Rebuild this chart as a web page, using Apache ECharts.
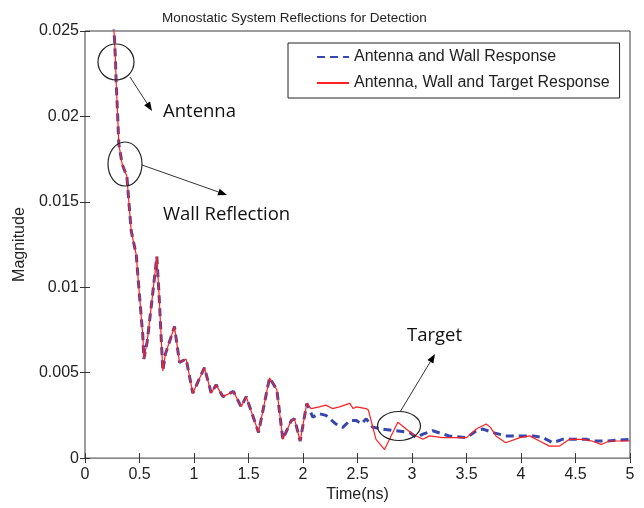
<!DOCTYPE html>
<html>
<head>
<meta charset="utf-8">
<script src="https://cdn.jsdelivr.net/npm/echarts@6/dist/echarts.min.js"></script>
<style>
  html, body { margin: 0; padding: 0; background: #fff; }
  #chart { width: 644px; height: 508px; }
</style>
</head>
<body>
<div id="chart"></div>
<script>
// time (ns), magnitude — the shared part before the target shows up
const commonPart = [
  [0.26, 0.0255], [0.27, 0.0246], [0.28, 0.0232], [0.286, 0.0220], [0.30, 0.0200],
  [0.31, 0.0184], [0.341, 0.0172], [0.384, 0.0165], [0.40, 0.0152], [0.424, 0.0133],
  [0.47, 0.0119], [0.50, 0.0095], [0.53, 0.0072], [0.54, 0.0058], [0.57, 0.0068],
  [0.61, 0.0090], [0.659, 0.0118], [0.68, 0.0095], [0.714, 0.0051], [0.738, 0.0061],
  [0.821, 0.0077], [0.867, 0.0056], [0.928, 0.0058], [0.989, 0.0038], [1.096, 0.0053],
  [1.158, 0.0038], [1.203, 0.0043], [1.264, 0.0036], [1.362, 0.0039], [1.433, 0.0030],
  [1.479, 0.0036], [1.592, 0.0015], [1.693, 0.0047], [1.76, 0.0040], [1.815, 0.0011],
  [1.892, 0.0022], [1.922, 0.0023], [1.974, 0.0010], [2.035, 0.0032]
];

const wallTail = [
  [2.09, 0.0024], [2.15, 0.0026], [2.21, 0.0025], [2.30, 0.0020], [2.365, 0.0018],
  [2.43, 0.0022], [2.49, 0.0022], [2.534, 0.0020], [2.58, 0.0023], [2.64, 0.0018],
  [2.73, 0.0017], [2.85, 0.0016], [2.98, 0.0015], [3.04, 0.0012], [3.10, 0.0014],
  [3.19, 0.0016], [3.34, 0.0013], [3.50, 0.0012], [3.59, 0.0016], [3.65, 0.0017],
  [3.74, 0.0015], [3.86, 0.0013], [4.02, 0.0013], [4.11, 0.0013], [4.20, 0.0012],
  [4.29, 0.0009], [4.38, 0.0011], [4.47, 0.0011], [4.60, 0.0011], [4.66, 0.0010],
  [4.78, 0.0010], [5.0, 0.0011]
];

const targetTail = [
  [2.075, 0.0029], [2.15, 0.0030], [2.21, 0.0031], [2.27, 0.0029], [2.335, 0.0030],
  [2.43, 0.0032], [2.46, 0.0029], [2.49, 0.0030], [2.58, 0.0029], [2.60, 0.0028],
  [2.67, 0.0011], [2.748, 0.0005], [2.824, 0.0015], [2.87, 0.0021], [2.947, 0.0017],
  [3.007, 0.0014], [3.10, 0.0011], [3.16, 0.0013], [3.28, 0.0012], [3.40, 0.0012],
  [3.50, 0.0012], [3.59, 0.0017], [3.68, 0.0020], [3.72, 0.0018], [3.77, 0.0013],
  [3.86, 0.0009], [3.99, 0.0012], [4.08, 0.0013], [4.17, 0.0010], [4.26, 0.0007],
  [4.35, 0.0007], [4.445, 0.0011], [4.57, 0.0011], [4.65, 0.0010], [4.736, 0.0008],
  [4.81, 0.0010], [5.0, 0.0010]
];

const seriesNames = ['Antenna and Wall Response', 'Antenna, Wall and Target Response'];

const chart = echarts.init(document.getElementById('chart'));

const axisFont = { fontFamily: 'Liberation Sans', fontSize: 16, color: '#222' };
const noteFont = { fontFamily: 'Open Sans', fontSize: 18.5, fill: '#111' };

// black arrow with a filled head
function arrow(x1, y1, x2, y2) {
  const a = Math.atan2(y2 - y1, x2 - x1);
  const len = 9, w = 3.5;
  const bx = x2 - len * Math.cos(a), by = y2 - len * Math.sin(a);
  return [
    { type: 'line', shape: { x1, y1, x2: bx, y2: by }, style: { stroke: '#333', lineWidth: 1 } },
    {
      type: 'polygon',
      shape: { points: [[x2, y2], [bx - w * Math.sin(a), by + w * Math.cos(a)], [bx + w * Math.sin(a), by - w * Math.cos(a)]] },
      style: { fill: '#000' }
    }
  ];
}

function ellipse(cx, cy, rx, ry) {
  return { type: 'ellipse', shape: { cx, cy, rx, ry }, style: { fill: 'none', stroke: '#222', lineWidth: 1.2 }, z: 10 };
}

function note(x, y, text) {
  return { type: 'text', x, y, style: Object.assign({ text, verticalAlign: 'middle' }, noteFont), z: 10 };
}

const boxTick = { show: true, inside: true, length: 5, lineStyle: { color: '#333' } };

chart.setOption({
  animation: false,
  title: {
    text: 'Monostatic System Reflections for Detection',
    left: 157, top: 6,
    textStyle: { fontFamily: 'Liberation Sans', fontSize: 13.5, fontWeight: 'normal', color: '#222' }
  },
  grid: { left: 85, right: 14, top: 31, bottom: 46, show: true, borderColor: '#3a3a3a', borderWidth: 1 },
  legend: {
    orient: 'vertical',
    left: 288, top: 43,
    itemWidth: 32, itemHeight: 14, itemGap: 10,
    padding: [6, 10, 7, 28],
    backgroundColor: '#fff', borderColor: '#222', borderWidth: 1,
    itemStyle: { opacity: 0 },
    textStyle: { fontFamily: 'Liberation Sans', fontSize: 16, color: '#222' },
    data: seriesNames
  },
  xAxis: [
    {
      type: 'value', min: 0, max: 5, interval: 0.5,
      name: 'Time(ns)', nameLocation: 'middle', nameGap: 27,
      nameTextStyle: axisFont,
      axisLine: { show: false }, axisTick: boxTick, splitLine: { show: false },
      axisLabel: Object.assign({ margin: 8 }, axisFont)
    },
    {
      type: 'value', min: 0, max: 5, interval: 0.5, position: 'top',
      axisLine: { show: false }, axisTick: boxTick, splitLine: { show: false },
      axisLabel: { show: false }
    }
  ],
  yAxis: [
    {
      type: 'value', min: 0, max: 0.025, interval: 0.005,
      name: 'Magnitude', nameLocation: 'middle', nameGap: 55,
      nameTextStyle: axisFont,
      axisLine: { show: false }, axisTick: boxTick, splitLine: { show: false },
      axisLabel: Object.assign({ margin: 6 }, axisFont)
    },
    {
      type: 'value', min: 0, max: 0.025, interval: 0.005, position: 'right',
      axisLine: { show: false }, axisTick: boxTick, splitLine: { show: false },
      axisLabel: { show: false }
    }
  ],
  series: [
    {
      name: seriesNames[0], type: 'line', symbol: 'none',
      data: commonPart.concat(wallTail),
      lineStyle: { color: '#3747b0', width: 3, type: [8, 5] },
      itemStyle: { color: '#3747b0' }
    },
    {
      name: seriesNames[1], type: 'line', symbol: 'none',
      data: commonPart.concat(targetTail),
      lineStyle: { color: '#ff2020', width: 1.2 },
      itemStyle: { color: '#ff2020' }
    }
  ],
  graphic: [
    ellipse(116, 62, 18, 18),
    ...arrow(130, 77, 152, 111),
    note(163, 112, 'Antenna'),
    ellipse(125, 164, 17, 22),
    ...arrow(142, 165, 227, 195),
    note(163, 215, 'Wall Reflection'),
    ellipse(399, 426, 21.5, 14.5),
    ...arrow(400, 412, 435, 354),
    note(407, 336, 'Target')
  ]
});
</script>
</body>
</html>
